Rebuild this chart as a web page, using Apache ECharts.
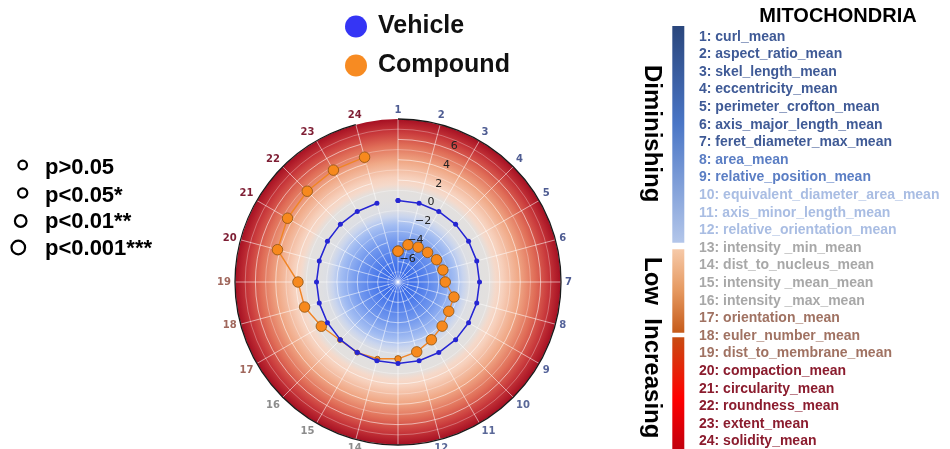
<!DOCTYPE html>
<html>
<head>
<meta charset="utf-8">
<script src="https://cdn.jsdelivr.net/npm/echarts@6/dist/echarts.min.js"></script>
<style>
  html, body { margin: 0; padding: 0; background: #fff; }
  #chart { width: 950px; height: 449px; }
</style>
</head>
<body>
<div id="chart"></div>
<script>
// ---- data ----
var categories = ['1','2','3','4','5','6','7','8','9','10','11','12',
                  '13','14','15','16','17','18','19','20','21','22','23','24'];
var featureNames = ['curl_mean','aspect_ratio_mean','skel_length_mean','eccentricity_mean',
  'perimeter_crofton_mean','axis_major_length_mean','feret_diameter_max_mean','area_mean',
  'relative_position_mean','equivalent_diameter_area_mean','axis_minor_length_mean',
  'relative_orientation_mean','intensity _min_mean','dist_to_nucleus_mean','intensity _mean_mean',
  'intensity _max_mean','orientation_mean','euler_number_mean','dist_to_membrane_mean',
  'compaction_mean','circularity_mean','roundness_mean','extent_mean','solidity_mean'];
// colour group of each feature (0 dark blue .. 5 dark red)
var featureGroup = [0,0,0,0,0,0,0,1,1,2,2,2,3,3,3,3,4,4,4,5,5,5,5,5];
var vehicle = [0,0,0,0,0,0,0,0,0,0,0,0,0,0,0,0,0,0,0,0,0,0,0,0];
var compound = [-4.97,-4.22,-4.05,-3.89,-3.63,-3.44,-3.36,-2.31,-2.25,-1.87,-1.45,-0.90,
                -0.46,-0.20,0.00,0.05,0.69,1.49,1.82,4.25,4.52,4.60,4.68,4.68];
// significance level: 0 p>0.05, 1 p<0.05, 2 p<0.01, 3 p<0.001
var pLevel = [3,3,3,3,3,3,3,3,3,3,3,3,1,0,0,0,3,3,3,3,3,3,3,3];
var pLegendLabels = ['p>0.05','p<0.05*','p<0.01**','p<0.001***'];

// ---- styles ----
var listColors = ['#3f5a96','#5b7ec4','#a9bde3','#a8a8a8','#a07262','#8b1c2e'];
var angleLabelColors = ['#4e5c92','#55639a','#5a6898','#8c8c8c','#a0675c','#7e1e34'];
var sizeByLevel = [5, 6.5, 8.5, 10.5];
var cx = 398, cy = 282, R = 163;

var myChart = echarts.init(document.getElementById('chart'));

function loop(arr){
  var out = [];
  for (var i = 0; i <= arr.length; i++) out.push([arr[i % arr.length], i % arr.length]);
  return out;
}

var graphics = [];
// polar background
graphics.push({
  type: 'circle', z: -10, silent: true,
  shape: { cx: cx, cy: cy, r: R },
  style: {
    fill: new echarts.graphic.RadialGradient(0.5, 0.5, 0.5, [
      { offset: 0.00, color: '#2d5fe6' },
      { offset: 0.12, color: '#4877ea' },
      { offset: 0.25, color: '#7399ee' },
      { offset: 0.35, color: '#a3bdf2' },
      { offset: 0.40, color: '#c8d4ee' },
      { offset: 0.44, color: '#dcdee4' },
      { offset: 0.50, color: '#e1e0e0' },
      { offset: 0.56, color: '#e3e0de' },
      { offset: 0.60, color: '#f5d9ca' },
      { offset: 0.64, color: '#f7d1bd' },
      { offset: 0.74, color: '#f0a886' },
      { offset: 0.84, color: '#e06e58' },
      { offset: 0.92, color: '#c93a3c' },
      { offset: 1.00, color: '#a50f22' }
    ])
  }
});

// p-value legend
var pCircle = [[22.7,165,4.3],[22.7,193,4.6],[20.7,221,5.8],[18.3,247.5,6.8]];
pLegendLabels.forEach(function(t, i){
  graphics.push({
    type: 'circle', shape: { cx: pCircle[i][0], cy: pCircle[i][1], r: pCircle[i][2] },
    style: { fill: '#fff', stroke: '#000', lineWidth: 2.2 }
  });
  graphics.push({
    type: 'text', x: 45, y: [167.5,195.5,222,249][i],
    style: { text: t, fill: '#000', font: 'bold 22px "Liberation Sans", Arial', verticalAlign: 'middle' }
  });
});

// right panel
graphics.push({
  type: 'text', x: 838, y: 16,
  style: { text: 'MITOCHONDRIA', fill: '#000', font: 'bold 20px "Liberation Sans", Arial',
           align: 'center', verticalAlign: 'middle' }
});
featureNames.forEach(function(name, i){
  graphics.push({
    type: 'text', x: 699, y: 36.7 + i * 17.6,
    style: { text: (i + 1) + ': ' + name, fill: listColors[featureGroup[i]],
             font: 'bold 14px "Liberation Sans", Arial', verticalAlign: 'middle' }
  });
});
graphics.push({
  type: 'rect', shape: { x: 672.3, y: 26, width: 12, height: 216.7 },
  style: { fill: new echarts.graphic.LinearGradient(0, 0, 0, 1, [
    { offset: 0, color: '#2a467c' }, { offset: 0.45, color: '#4a76c6' }, { offset: 1, color: '#b3c6ea' }]) }
});
graphics.push({
  type: 'rect', shape: { x: 672.3, y: 249.3, width: 12, height: 83.4 },
  style: { fill: new echarts.graphic.LinearGradient(0, 0, 0, 1, [
    { offset: 0, color: '#f6c9a8' }, { offset: 0.5, color: '#e5985f' }, { offset: 1, color: '#c65b1a' }]) }
});
graphics.push({
  type: 'rect', shape: { x: 672.3, y: 337.3, width: 12, height: 111.7 },
  style: { fill: new echarts.graphic.LinearGradient(0, 0, 0, 1, [
    { offset: 0, color: '#c84c12' }, { offset: 0.55, color: '#ff0000' }, { offset: 1, color: '#c2000e' }]) }
});
graphics.push({
  type: 'text', x: 651.5, y: 65, rotation: -Math.PI / 2,
  style: { text: 'Diminishing', fill: '#000', font: 'bold 24px "Liberation Sans", Arial',
           align: 'left', verticalAlign: 'middle' }
});
graphics.push({
  type: 'text', x: 651.5, y: 257, rotation: -Math.PI / 2,
  style: { text: 'Low  Increasing', fill: '#000', font: 'bold 24px "Liberation Sans", Arial',
           align: 'left', verticalAlign: 'middle' }
});

var gridWhite = 'rgba(255,255,255,0.55)';

var option = {
  animation: false,
  backgroundColor: '#fff',
  legend: {
    orient: 'vertical', left: 340, top: 9,
    itemWidth: 22, itemHeight: 22, itemGap: 14, icon: 'circle',
    textStyle: { fontSize: 25, fontWeight: 'bold', color: '#111',
                 fontFamily: '"Liberation Sans", Arial', padding: [0, 0, 0, 6] },
    data: [
      { name: 'Vehicle', itemStyle: { color: '#3535f5', borderWidth: 0 } },
      { name: 'Compound', itemStyle: { color: '#f78b22', borderWidth: 0 } }
    ]
  },
  polar: [
    { center: [cx, cy], radius: R },
    { center: [cx, cy], radius: [4.5, R + 4.5] }
  ],
  angleAxis: [
    {
      polarIndex: 0, type: 'category', startAngle: 90, clockwise: true, boundaryGap: false,
      data: categories.map(function(c, i){
        return { value: c, textStyle: { color: angleLabelColors[featureGroup[i]] } };
      }),
      axisLine: { show: true, lineStyle: { color: '#1a1a1a', width: 1.3 } },
      axisTick: { show: false },
      axisLabel: { margin: 4, fontSize: 10, fontWeight: 'bold', fontFamily: '"DejaVu Sans"' },
      splitLine: { show: true, lineStyle: { color: gridWhite, width: 1 } },
      z: 1
    },
    {
      polarIndex: 1, type: 'value', startAngle: 67.5, min: 0, max: 360,
      axisLine: { show: false }, axisTick: { show: false },
      axisLabel: { show: false }, splitLine: { show: false }
    }
  ],
  radiusAxis: [
    {
      polarIndex: 0, min: -8, max: 8, interval: 2,
      axisLine: { show: false }, axisTick: { show: false }, axisLabel: { show: false },
      splitLine: { show: true, lineStyle: { color: gridWhite, width: 1 } },
      minorTick: { show: false, splitNumber: 2 },
      minorSplitLine: { show: true, lineStyle: { color: 'rgba(255,255,255,0.3)', width: 1 } },
      z: 1
    },
    {
      polarIndex: 1, min: -8, max: 8, interval: 2,
      axisLine: { show: false }, axisTick: { show: false }, splitLine: { show: false },
      axisLabel: {
        margin: 0, align: 'center', verticalAlign: 'middle',
        fontSize: 11, color: '#222', fontFamily: '"DejaVu Sans"',
        formatter: function(v){
          if (v === -8 || v === 8) return '';
          return v < 0 ? '\u2212' + (-v) : String(v);
        }
      },
      z: 5
    }
  ],
  series: [
    {
      name: 'Compound', type: 'line', coordinateSystem: 'polar', polarIndex: 0,
      data: loop(compound), z: 3,
      symbol: 'circle',
      symbolSize: function(val, params){ return sizeByLevel[pLevel[params.dataIndex % 24]]; },
      lineStyle: { color: '#f08526', width: 1.4 },
      itemStyle: { color: '#f7891d', borderColor: '#8c5212', borderWidth: 0.8 }
    },
    {
      name: 'Vehicle', type: 'line', coordinateSystem: 'polar', polarIndex: 0,
      data: loop(vehicle), z: 4,
      symbol: 'circle', symbolSize: 5,
      lineStyle: { color: '#2626d2', width: 1.6 },
      itemStyle: { color: '#2626d2', borderWidth: 0 }
    }
  ],
  graphic: graphics
};

myChart.setOption(option);
</script>
</body>
</html>
